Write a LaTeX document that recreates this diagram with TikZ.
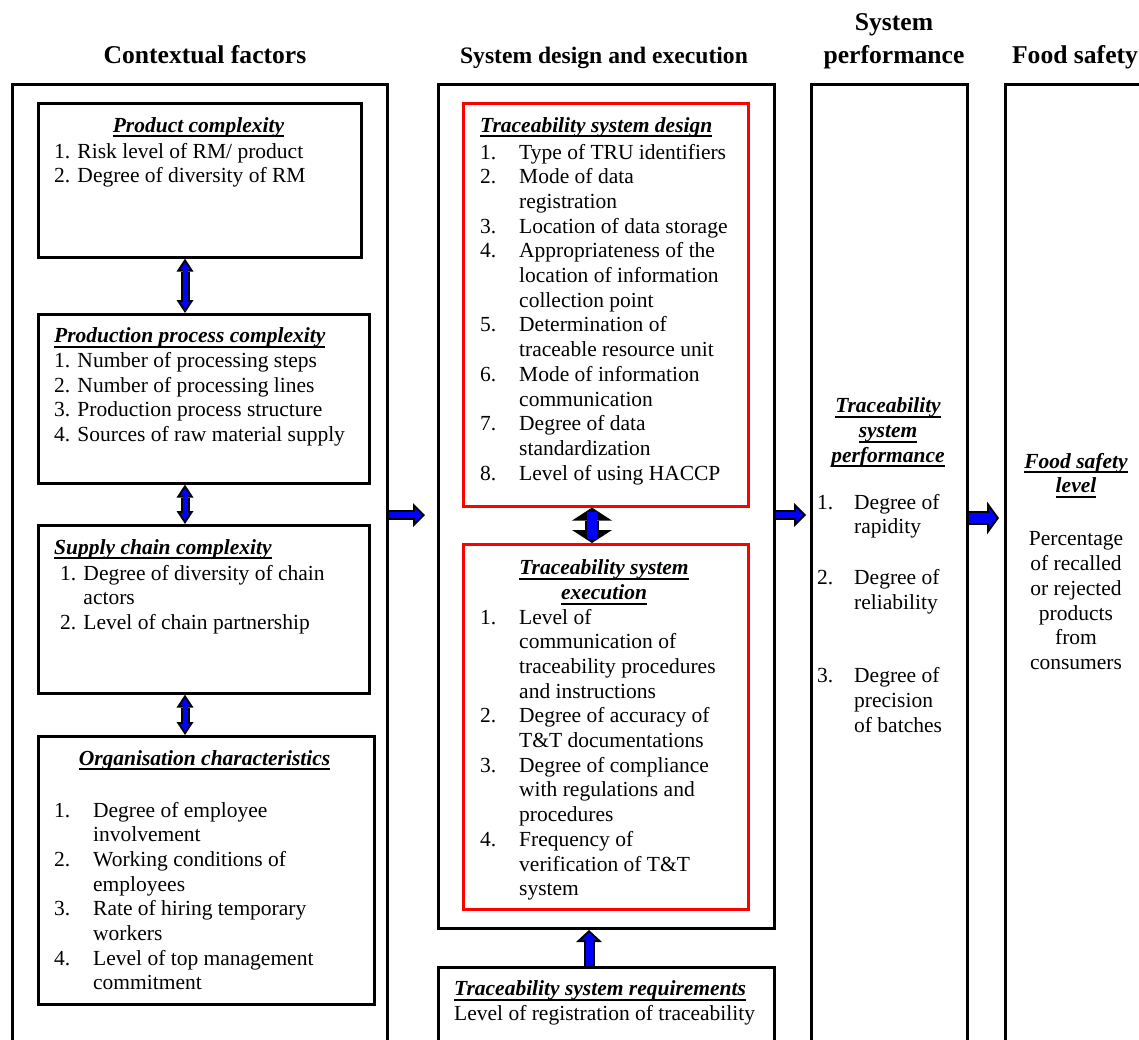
\documentclass[tikz,border=0pt]{standalone}
\usepackage{fontspec}
\setmainfont{Liberation Serif}
\usetikzlibrary{arrows.meta}
\usetikzlibrary{positioning}

\newlength\nbw
\setlength\nbw{39pt}
\newcommand\nb[1]{\makebox[\nbw][l]{#1}}
\newcommand\nx{\hspace*{\nbw}}
\newcommand\ttl[1]{\setbox0\hbox{\bfseries\itshape #1}\rlap{\rule[-5pt]{\wd0}{2pt}}\box0}

\tikzset{
  outer/.style={draw, line width=3pt, inner sep=0pt, anchor=north west},
  inner/.style={draw, line width=2.6pt, inner sep=0pt, anchor=north west},
  redbox/.style={draw=red, line width=2.6pt, inner sep=0pt, anchor=north west},
  % text placed by the baseline of its first line
  txt/.style={inner sep=0pt, align=left, anchor=north west, yshift=13.3pt,
    font=\fontsize{21.5}{24.7}\selectfont, execute at begin node=\strut},
  ctxt/.style={txt, align=center, anchor=north},
  head/.style={inner sep=0pt, align=center, anchor=north, yshift=23.1pt,
    font=\fontsize{25.6}{33}\selectfont\bfseries, execute at begin node=\strut},
  % block arrows: black body, blue inside
  dbl/.style={line width=9pt, {Triangle[width=17pt,length=13pt,line width=0pt]}-{Triangle[width=17pt,length=13pt,line width=0pt]}},
  dblin/.style={blue, line width=5pt, {Triangle[width=9.5pt,length=7.3pt,line width=0pt]}-{Triangle[width=9.5pt,length=7.3pt,line width=0pt]}, shorten >=3.7pt, shorten <=3.7pt},
  mdbl/.style={line width=14pt, {Triangle[width=40pt,length=13pt,line width=0pt]}-{Triangle[width=40pt,length=13pt,line width=0pt]}},
  mdblin/.style={blue, line width=10pt, shorten >=4pt, shorten <=4pt},
  harr/.style={line width=10pt, -{Triangle[width=24pt,length=12pt,line width=0pt]}},
  harrin/.style={blue, line width=6pt, -{Triangle[width=14.4pt,length=7.2pt,line width=0pt]}},
  parr/.style={line width=14pt, -{Triangle[width=33pt,length=12pt,line width=0pt]}},
  parrin/.style={blue, line width=10pt, -{Triangle[width=20.6pt,length=7.5pt,line width=0pt]}},
  uarr/.style={line width=11pt, -{Triangle[width=26pt,length=12pt,line width=0pt]}},
  uarrin/.style={blue, line width=7pt, -{Triangle[width=15.8pt,length=7.3pt,line width=0pt]}, shorten >=2.7pt},
}

\begin{document}
\begin{tikzpicture}[x=1pt, y=-1pt]
\useasboundingbox (0,0) rectangle (1139,1039);
\clip (0,0) rectangle (1139,1039);

% column headings
\node[head] (hctx) at (205,63) {Contextual factors};
\node[head, font=\fontsize{23.6}{33}\selectfont\bfseries] (hsde) at (604,63) {System design and execution};
\node[head] (hperf) at (894,36) {System\\performance};
\node[head] (hfood) at (1075,63) {Food safety};

% outer frames
\node[outer, minimum width=375pt, minimum height=1000pt] (ctx) at (11,83) {};
\node[outer, minimum width=336pt, minimum height=844pt] (sde) at (437,83) {};
\node[outer, minimum width=156pt, minimum height=1000pt] (perf) at (810,83) {};
\node[outer, minimum width=200pt, minimum height=1000pt] (food) at (1004,83) {};

% contextual factors
\node[inner, minimum width=323pt, minimum height=154pt] (prod) at (37,102) {};
\node[inner, minimum width=331pt, minimum height=169pt] (proc) at (37,313) {};
\node[inner, minimum width=331pt, minimum height=168pt] (supp) at (37,524) {};
\node[inner, minimum width=336pt, minimum height=268pt] (org) at (37,735) {};

\node[ctxt] (prodt) at (198.5,128) {\ttl{Product complexity}};
\node[txt] (prodl) at (54,156) {1. Risk level of RM/ product\\2. Degree of diversity of RM};

\node[txt] (proct) at (54,341) {\ttl{Production process complexity}\\
  1. Number of processing steps\\
  2. Number of processing lines\\
  3. Production process structure\\
  4. Sources of raw material supply};

\node[txt] (suppt) at (54,550) {\ttl{Supply chain complexity}};
\node[txt] (suppl) at (60,578) {1. Degree of diversity of chain\\
  \phantom{1. }actors\\
  2. Level of chain partnership};

\node[ctxt] (orgt) at (204.5,761) {\ttl{Organisation characteristics}};
\node[txt] (orgl) at (54,815) {\nb{1.}Degree of employee\\
  \nx involvement\\
  \nb{2.}Working conditions of\\
  \nx employees\\
  \nb{3.}Rate of hiring temporary\\
  \nx workers\\
  \nb{4.}Level of top management\\
  \nx commitment};

% system design and execution
\node[redbox, minimum width=285pt, minimum height=403pt] (des) at (462,102) {};
\node[redbox, minimum width=285pt, minimum height=365pt] (exe) at (462,543) {};
\node[outer, minimum width=336pt, minimum height=100pt] (req) at (437,966) {};

\node[txt] (dest) at (480,128) {\ttl{Traceability system design}};
\node[txt] (desl) at (480,157) {\nb{1.}Type of TRU identifiers\\
  \nb{2.}Mode of data\\
  \nx registration\\
  \nb{3.}Location of data storage\\
  \nb{4.}Appropriateness of the\\
  \nx location of information\\
  \nx collection point\\
  \nb{5.}Determination of\\
  \nx traceable resource unit\\
  \nb{6.}Mode of information\\
  \nx communication\\
  \nb{7.}Degree of data\\
  \nx standardization\\
  \nb{8.}Level of using HACCP};

\node[ctxt] (exet) at (604,573) {\ttl{Traceability system}\\\ttl{execution}};
\node[txt] (exel) at (480,622) {\nb{1.}Level of\\
  \nx communication of\\
  \nx traceability procedures\\
  \nx and instructions\\
  \nb{2.}Degree of accuracy of\\
  \nx T\&T documentations\\
  \nb{3.}Degree of compliance\\
  \nx with regulations and\\
  \nx procedures\\
  \nb{4.}Frequency of\\
  \nx verification of T\&T\\
  \nx system};

\node[txt] (reqt) at (454,994) {\ttl{Traceability system requirements}\\
  Level of registration of traceability};

% system performance
\node[ctxt] (perft) at (888,411) {\ttl{Traceability}\\\ttl{system}\\\ttl{performance}};
\node[txt] (perfl) at (817,507) {\makebox[37pt][l]{1.}Degree of\\
  \hspace*{37pt}rapidity\\[26.4pt]
  \makebox[37pt][l]{2.}Degree of\\
  \hspace*{37pt}reliability\\[48.4pt]
  \makebox[37pt][l]{3.}Degree of\\
  \hspace*{37pt}precision\\
  \hspace*{37pt}of batches};

% food safety
\node[ctxt] (foodt) at (1076,466) {\ttl{Food safety}\\\ttl{level}};
\node[ctxt] (foodl) at (1076,545) {Percentage\\of recalled\\or rejected\\products\\from\\consumers};

% connectors
\coordinate (lx) at (185,0);
\coordinate (mx) at (592,0);
\coordinate (ux) at (589,0);
\coordinate (ay) at (0,515);
\coordinate (by) at (0,518);

\foreach \a/\b in {prod/proc, proc/supp, supp/org} {
  \draw[dbl] (\a.south -| lx) -- (\b.north -| lx);
  \draw[dblin] (\a.south -| lx) -- (\b.north -| lx);
}

\draw[mdbl] (des.south -| mx) -- (exe.north -| mx);
\draw[mdblin] (des.south -| mx) -- (exe.north -| mx);

\draw[uarr] (req.north -| ux) -- (sde.south -| ux);
\draw[uarrin] (req.north -| ux) -- (sde.south -| ux);

\draw[harr, shorten >=12pt] (ctx.east |- ay) -- (sde.west |- ay);
\draw[harrin, shorten >=14.8pt] (ctx.east |- ay) -- (sde.west |- ay);
\draw[harr, shorten >=4pt] (sde.east |- ay) -- (perf.west |- ay);
\draw[harrin, shorten >=6.8pt] (sde.east |- ay) -- (perf.west |- ay);
\draw[parr, shorten >=5pt] (perf.east |- by) -- (food.west |- by);
\draw[parrin, shorten >=7.5pt] (perf.east |- by) -- (food.west |- by);
\end{tikzpicture}
\end{document}
